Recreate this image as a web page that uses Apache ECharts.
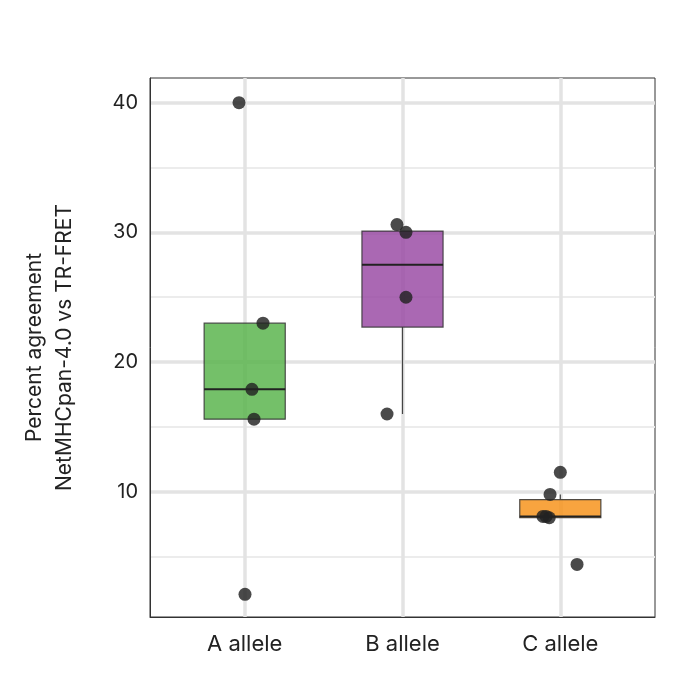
<!DOCTYPE html>
<html><head><meta charset="utf-8">
<script src="https://cdn.jsdelivr.net/npm/echarts@6/dist/echarts.min.js"></script>
<style>html,body{margin:0;padding:0;background:#fff}#c{width:692px;height:686px}</style>
</head><body><div id="c"></div>
<script>
const categories = ['A allele', 'B allele', 'C allele'];
const yTicks = [10, 20, 30, 40];
// [position, whiskerLow, Q1, median, Q3, whiskerHigh]
const boxStats = [
  [1, 15.6, 15.6, 17.9, 23.0, 23.0],
  [2, 16.0, 22.7, 27.5, 30.1, 30.1],
  [3, 8.0, 8.0, 8.1, 9.4, 9.8]
];
const boxColors = ['#5cb54f', '#9b4ea6', '#f7941d'];
// jittered points [x, y]
const pointsA = [[0.964, 40.0], [1.116, 23.0], [1.046, 17.9], [1.059, 15.6], [1.002, 2.1]];
const pointsB = [[1.965, 30.6], [2.022, 30.0], [2.022, 25.0], [1.902, 16.0]];
const pointsC = [[3.0, 11.5], [2.935, 9.8], [2.89, 8.1], [2.93, 8.0], [2.91, 8.1], [3.106, 4.4]];

const HALF = 0.257;
const chart = echarts.init(document.getElementById('c'));
const font = 'Inter, "Noto Sans", sans-serif';
chart.setOption({
  animation: false,
  grid: {left: 150, right: 37, top: 78, bottom: 69, show: true, borderColor: '#333', borderWidth: 1, backgroundColor: 'transparent'},
  xAxis: {
    type: 'value', min: 0.4, max: 3.6,
    axisLine: {show: true, onZero: false, lineStyle: {color: '#333'}},
    axisTick: {show: false},
    axisLabel: {fontSize: 22, color: '#222', fontFamily: font, margin: 16,
      customValues: [1, 2, 3],
      formatter: v => categories[Math.round(v) - 1] || ''},
    splitLine: {show: false}
  },
  yAxis: {
    type: 'value', min: 0.35, max: 41.9,
    name: 'Percent agreement\nNetMHCpan-4.0 vs TR-FRET',
    nameLocation: 'middle', nameGap: 70,
    nameTextStyle: {fontSize: 21, color: '#222', fontFamily: font, lineHeight: 30},
    axisLine: {show: true, lineStyle: {color: '#333'}},
    axisTick: {show: false},
    axisLabel: {fontSize: 20, color: '#222', fontFamily: font, margin: 12,
      customValues: yTicks},
    splitLine: {show: false}
  },
  series: [
    {type: 'line', data: [], z: 0, markLine: {z: 0, silent: true, symbol: 'none', label: {show: false},
      lineStyle: {color: '#ececec', width: 2, type: 'solid'},
      data: [5, 15, 25, 35].map(v => ({yAxis: v}))}},
    {type: 'line', data: [], z: 0, markLine: {z: 0, silent: true, symbol: 'none', label: {show: false},
      lineStyle: {color: '#e3e3e3', width: 3.5, type: 'solid'},
      data: yTicks.map(v => ({yAxis: v})).concat([1, 2, 3].map(v => ({xAxis: v})))}},
    {
      type: 'custom', data: boxStats, z: 3,
      renderItem: (params, api) => {
        const x = api.value(0), lo = api.value(1), q1 = api.value(2), med = api.value(3), q3 = api.value(4), hi = api.value(5);
        const pl = api.coord([x - HALF, q3]), pr = api.coord([x + HALF, q1]);
        const c = api.coord([x, med]);
        const pLo = api.coord([x, lo]), pHi = api.coord([x, hi]), pq1 = api.coord([x, q1]), pq3 = api.coord([x, q3]);
        const col = boxColors[params.dataIndex];
        return {type: 'group', children: [
          {type: 'line', shape: {x1: pLo[0], y1: pLo[1], x2: pq1[0], y2: pq1[1]}, style: {stroke: '#444', lineWidth: 1.2}},
          {type: 'line', shape: {x1: pHi[0], y1: pHi[1], x2: pq3[0], y2: pq3[1]}, style: {stroke: '#444', lineWidth: 1.2}},
          {type: 'rect', shape: {x: pl[0], y: pl[1], width: pr[0] - pl[0], height: pr[1] - pl[1]},
            style: {fill: col, opacity: 0.85, stroke: '#333', lineWidth: 1.2}},
          {type: 'line', shape: {x1: pl[0], y1: c[1], x2: pr[0], y2: c[1]}, style: {stroke: '#222', lineWidth: 2}}
        ]};
      }
    },
    ...[pointsA, pointsB, pointsC].map(d => ({
      type: 'scatter', data: d, z: 5, symbolSize: 13,
      itemStyle: {color: '#222', opacity: 0.82}
    }))
  ]
});
</script></body></html>
